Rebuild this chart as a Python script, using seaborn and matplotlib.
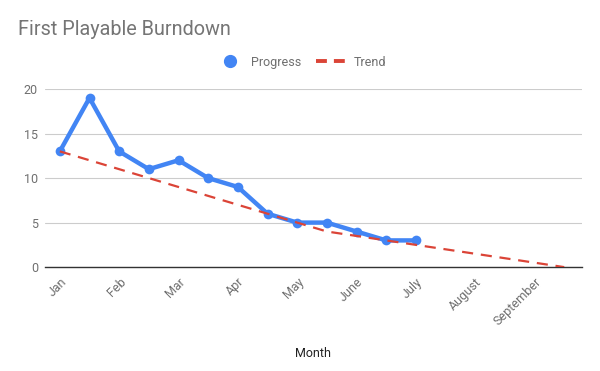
import pandas as pd
import matplotlib.pyplot as plt
import seaborn as sns
from matplotlib.lines import Line2D

# Data (half-month steps)
months = ['Jan', 'Feb', 'Mar', 'Apr', 'May', 'June', 'July', 'August', 'September']
progress = [13, 19, 13, 11, 12, 10, 9, 6, 5, 5, 4, 3, 3]
trend = [13, 12, 11, 10, 9, 8, 7, 6, 5, 4, 3.5, 3, 2.5, 2, 1.5, 1, 0.5, 0]

blue = '#4285F4'
red = '#DB4437'

sns.set_style('white')
plt.rcParams['font.family'] = ['Roboto', 'DejaVu Sans']

prog_df = pd.DataFrame({'step': range(len(progress)), 'value': progress})
trend_df = pd.DataFrame({'step': range(len(trend)), 'value': trend})

fig = plt.figure(figsize=(6, 3.71), dpi=100)
ax = fig.add_axes([0.075, 0.28, 0.895, 0.48])

sns.lineplot(data=prog_df, x='step', y='value', color=blue, linewidth=3.2,
             marker='o', markersize=7, markeredgewidth=0, ax=ax, zorder=3)
sns.lineplot(data=trend_df, x='step', y='value', color=red, linewidth=1.6,
             linestyle=(0, (5, 3.5)), ax=ax, zorder=4)

ax.set_xlim(-0.5, 17.6)
ax.set_ylim(0, 20)
ax.set_yticks([0, 5, 10, 15, 20])
ax.yaxis.grid(True, color='#cccccc', linewidth=0.8)
ax.set_axisbelow(True)
for s in ['top', 'right', 'left']:
    ax.spines[s].set_visible(False)
ax.spines['bottom'].set_color('#333333')
ax.spines['bottom'].set_linewidth(1.0)

ax.set_xticks(range(0, 2 * len(months), 2))
ax.set_xticklabels(months, rotation=45, ha='right', rotation_mode='anchor')
ax.tick_params(axis='both', length=0, labelsize=9, labelcolor='#6f6f6f')
ax.tick_params(axis='x', pad=6)
ax.tick_params(axis='y', pad=5)

ax.set_xlabel('Month', fontsize=9, color='#222222', labelpad=14)
ax.set_ylabel('')

fig.text(0.03, 0.905, 'First Playable Burndown', fontsize=14.3, color='#757575')

handles = [
    Line2D([], [], color=blue, marker='o', markersize=8.5, linestyle='none'),
    Line2D([], [], color=red, linewidth=2.8, linestyle=(0, (2.8, 1.8))),
]
fig.legend(handles, ['Progress', 'Trend'], loc='center', bbox_to_anchor=(0.5, 0.832),
           ncol=2, frameon=False, fontsize=9, labelcolor='#6f6f6f',
           handlelength=2.6, columnspacing=1.2, handletextpad=0.4)

fig.savefig('out.png', dpi=100)
